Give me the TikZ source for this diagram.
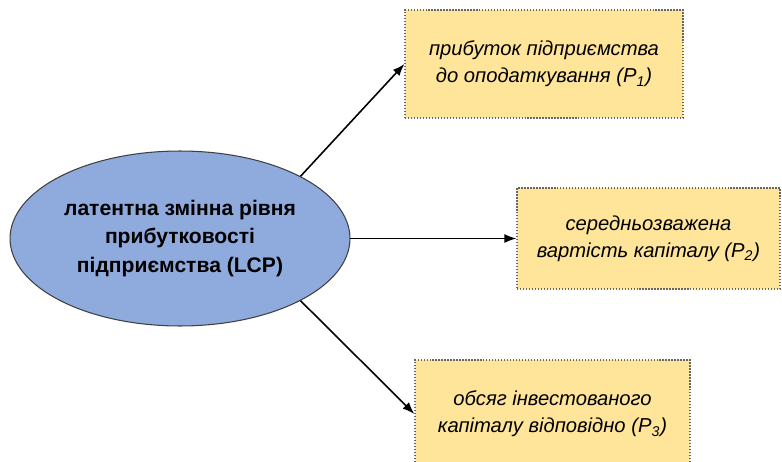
\documentclass[tikz,border=0pt]{standalone}
\usepackage{fontspec}
\setmainfont{Liberation Sans}
\usetikzlibrary{shapes.geometric, arrows.meta}

\definecolor{latentblue}{RGB}{143,170,220}
\definecolor{indbox}{RGB}{255,229,153}
\tikzset{
	latent/.style={ellipse, draw=black!75, fill=latentblue, line width=0.6pt, inner sep=0pt, minimum width=6.8cm, minimum height=3.5cm, align=center, font=\fontsize{12}{16}\selectfont\bfseries},
	indicator/.style={rectangle, draw=black!60, densely dotted, fill=indbox, line width=0.7pt, inner sep=0pt, align=center, font=\fontsize{11.5}{15.5}\selectfont\itshape},
	link/.style={line width=0.9pt, -{Latex[length=2.4mm, width=1.8mm]}}
}

\begin{document}
\begin{tikzpicture}[x=0.02cm, y=0.02cm]
		\useasboundingbox (0, 0) rectangle (782, 461);
		\node[latent] (lcp) at (180, 222.5) {латентна змінна рівня\\прибутковості\\підприємства (LCP)};
		\node[indicator, minimum width=5.56cm, minimum height=2.16cm] (p1) at (544, 397) {прибуток підприємства\\до оподаткування (P\textsubscript{1})};
		\node[indicator, minimum width=5.26cm, minimum height=2.02cm] (p2) at (648.5, 222.5) {середньозважена\\вартість капіталу (P\textsubscript{2})};
		\node[indicator, minimum width=5.5cm, minimum height=2.16cm] (p3) at (552.5, 47) {обсяг інвестованого\\капіталу відповідно (P\textsubscript{3})};
		\draw[link] (lcp.north east) -- (p1.west);
		\draw[link] (lcp.east) -- (p2.west);
		\draw[link] (lcp.south east) -- (p3.west);
	\end{tikzpicture}
\end{document}
